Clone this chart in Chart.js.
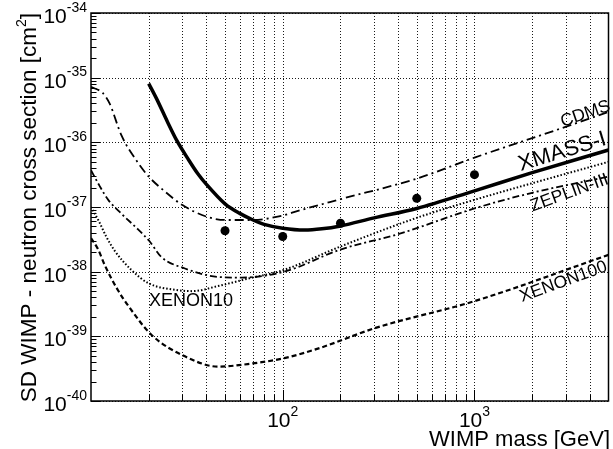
<!DOCTYPE html>
<html>
<head>
<meta charset="utf-8">
<script src="https://cdn.jsdelivr.net/npm/chart.js@4.4.0/dist/chart.umd.min.js"></script>
<style>
  html, body { margin: 0; padding: 0; background: #fff; }
  #wrap { width: 613px; height: 449px; }
</style>
</head>
<body>
<div id="wrap"><canvas id="limitChart" width="613" height="449"></canvas></div>
<script>
// ========== DATA ==========
// WIMP mass [GeV] / cross section [cm^2]
const xmassMass  = [20, 22, 25, 28, 32, 36, 40, 50, 60, 70, 80, 100, 130, 160, 200, 300, 500, 1000, 2000, 5000];
const xmassSigma = [8.1e-36, 4.7e-36, 2.1e-36, 1.07e-36, 5.6e-37, 3.3e-37, 2.24e-37, 1.12e-37, 7.9e-38, 6.3e-38,
                    5.4e-38, 4.7e-38, 4.4e-38, 4.6e-38, 5.1e-38, 6.8e-38, 9.5e-38, 1.78e-37, 3.4e-37, 7.6e-37];

const cdmsMass  = [10, 11.5, 12.5, 14.4, 17.6, 20, 25, 30, 40, 50, 70, 100, 120, 200, 500, 1000, 2600, 5000];
const cdmsSigma = [7.2e-36, 5.8e-36, 4.0e-36, 1.29e-36, 4.8e-37, 2.95e-37, 1.62e-37, 1.07e-37, 7.1e-38, 6.3e-38,
                   6.3e-38, 7.4e-38, 8.7e-38, 1.32e-37, 2.75e-37, 5.8e-37, 1.51e-36, 2.95e-36];

const zeplinMass  = [10, 11.1, 12.3, 14.4, 17.6, 20.2, 23.2, 30.9, 46, 61, 102, 200, 400, 1000, 2000, 5000];
const zeplinSigma = [3.7e-37, 2.1e-37, 1.29e-37, 7.9e-38, 4.5e-38, 2.95e-38, 1.7e-38, 1.12e-38, 8.3e-39, 8.1e-39,
                     1.0e-38, 2.2e-38, 3.8e-38, 9.5e-38, 1.66e-37, 2.95e-37];

const xe10Mass  = [10, 11, 12, 13.3, 16.2, 20, 28, 34, 45, 67, 100, 200, 500, 1000, 5000];
const xe10Sigma = [1.0e-37, 6.0e-38, 3.5e-38, 2.1e-38, 1.07e-38, 6.6e-39, 5.2e-39, 5.0e-39, 5.9e-39, 7.9e-39,
                   1.05e-38, 2.45e-38, 6.8e-38, 1.29e-37, 5.0e-37];

const xe100Mass  = [10, 10.9, 11.8, 13.8, 15.6, 20.7, 30.9, 46, 69, 102, 156, 305, 1000, 5000];
const xe100Sigma = [3.3e-38, 2.2e-38, 1.26e-38, 5.2e-39, 3.0e-39, 1.05e-39, 4.9e-40, 3.4e-40, 3.8e-40, 4.6e-40,
                    6.6e-40, 1.35e-39, 3.5e-39, 1.82e-38];

// XMASS-I data points
const pointMass  = [50, 100, 200, 500, 1000];
const pointSigma = [4.3e-38, 3.5e-38, 5.6e-38, 1.36e-37, 3.16e-37];

// axes
const X_MIN = 10, X_MAX = 5000;
const Y_MIN = 1e-40, Y_MAX = 1e-34;
const xGridValues  = [20, 30, 40, 50, 60, 70, 80, 90, 100, 200, 300, 400, 500, 600, 700, 800, 900, 1000, 2000, 3000, 4000];
const xMajorValues = [100, 1000];
const xMajorExp    = ['2', '3'];
const yMajorValues = [1e-40, 1e-39, 1e-38, 1e-37, 1e-36, 1e-35, 1e-34];
const yMajorExp    = ['-40', '-39', '-38', '-37', '-36', '-35', '-34'];
const yMinorMult   = [2, 3, 4, 5, 6, 7, 8, 9];

// curve labels: text, anchor mass, anchor sigma, angle (deg), font px
const curveLabels = [
    ['CDMS',       3790, 2.75e-36, -19, 17.5],
    ['XMASS-I',    2870, 7.1e-37,  -17, 22],
    ['ZEPLIN-III', 3130, 1.65e-37, -20, 17.5],
    ['XENON100',   2910, 6.95e-39, -20, 17.5],
    ['XENON10',    33.2, 3.54e-39,   0, 18]
];

const FONT = '"Liberation Sans", Arial, Helvetica, sans-serif';

function pts(xs, ys) { return xs.map((v, i) => ({ x: v, y: ys[i] })); }

function curve(label, xs, ys, width, dash) {
    return {
        label: label,
        data: pts(xs, ys),
        borderColor: '#000',
        backgroundColor: '#000',
        borderWidth: width,
        borderDash: dash,
        pointRadius: 0,
        fill: false,
        cubicInterpolationMode: 'monotone',
        clip: 0
    };
}

// ========== DECORATION PLUGIN ==========
function drawPow(ctx, exp, x, baseY, align) {
    ctx.font = '21px ' + FONT;
    const wBase = ctx.measureText('10').width;
    ctx.font = '14px ' + FONT;
    const wExp = ctx.measureText(exp).width;
    let left;
    if (align === 'right') left = x - wBase - wExp;
    else left = x - (wBase + wExp) / 2;
    ctx.textAlign = 'left';
    ctx.textBaseline = 'alphabetic';
    ctx.font = '21px ' + FONT;
    ctx.fillText('10', left, baseY);
    ctx.font = '14px ' + FONT;
    ctx.fillText(exp, left + wBase, baseY - 11.5);
}

const decor = {
    id: 'decor',
    beforeDatasetsDraw(chart) {
        const { ctx, chartArea: a, scales: { x, y } } = chart;
        ctx.save();
        ctx.strokeStyle = '#1a1a1a';
        ctx.lineWidth = 1;
        ctx.setLineDash([1, 2]);
        ctx.beginPath();
        xGridValues.forEach(v => {
            const px = Math.round(x.getPixelForValue(v)) + 0.5;
            ctx.moveTo(px, a.top); ctx.lineTo(px, a.bottom);
        });
        yMajorValues.forEach(v => {
            const py = Math.round(y.getPixelForValue(v)) + 0.5;
            ctx.moveTo(a.left, py); ctx.lineTo(a.right, py);
        });
        ctx.stroke();
        ctx.restore();
    },
    afterDatasetsDraw(chart) {
        const { ctx, chartArea: a, scales: { x, y } } = chart;
        ctx.save();
        ctx.fillStyle = '#000';
        ctx.strokeStyle = '#000';

        // frame
        ctx.lineWidth = 1.5;
        ctx.strokeRect(a.left, a.top, a.right - a.left, a.bottom - a.top);

        // y ticks (inside, left)
        ctx.lineWidth = 1;
        ctx.beginPath();
        yMajorValues.forEach((v, i) => {
            const py = Math.round(y.getPixelForValue(v)) + 0.5;
            ctx.moveTo(a.left, py); ctx.lineTo(a.left + 9, py);
            if (i < yMajorValues.length - 1) {
                yMinorMult.forEach(k => {
                    const pm = Math.round(y.getPixelForValue(k * v)) + 0.5;
                    ctx.moveTo(a.left, pm); ctx.lineTo(a.left + 5.5, pm);
                });
            }
        });
        // x ticks (inside, bottom)
        xGridValues.forEach(v => {
            const px = Math.round(x.getPixelForValue(v)) + 0.5;
            const len = xMajorValues.includes(v) ? 11 : 6;
            ctx.moveTo(px, a.bottom); ctx.lineTo(px, a.bottom - len);
        });
        ctx.stroke();

        // tick labels
        yMajorValues.forEach((v, i) => {
            const py = y.getPixelForValue(v);
            drawPow(ctx, yMajorExp[i], 87, py + 10, 'right');
        });
        xMajorValues.forEach((v, i) => {
            const px = x.getPixelForValue(v);
            drawPow(ctx, xMajorExp[i], px, 427, 'center');
        });

        // axis titles
        ctx.font = '22px ' + FONT;
        ctx.textAlign = 'right';
        ctx.textBaseline = 'alphabetic';
        ctx.fillText('WIMP mass [GeV]', 610, 446);

        ctx.save();
        ctx.translate(36, a.top);
        ctx.rotate(-Math.PI / 2);
        ctx.textAlign = 'left';
        ctx.font = '22.5px ' + FONT;
        const t1 = 'SD WIMP - neutron cross section [cm';
        const wClose = ctx.measureText(']').width;
        ctx.font = '14px ' + FONT;
        const wSup = ctx.measureText('2').width;
        ctx.font = '22.5px ' + FONT;
        const w1 = ctx.measureText(t1).width;
        const start = -(w1 + wSup + wClose);
        ctx.fillText(t1, start, 0);
        ctx.font = '14px ' + FONT;
        ctx.fillText('2', start + w1, -10);
        ctx.font = '22.5px ' + FONT;
        ctx.fillText(']', start + w1 + wSup, 0);
        ctx.restore();

        // curve labels
        curveLabels.forEach(([txt, m, s, ang, size]) => {
            ctx.save();
            ctx.translate(x.getPixelForValue(m), y.getPixelForValue(s));
            ctx.rotate(ang * Math.PI / 180);
            ctx.font = size + 'px ' + FONT;
            ctx.textAlign = 'center';
            ctx.textBaseline = 'middle';
            ctx.fillText(txt, 0, 0);
            ctx.restore();
        });
        ctx.restore();
    }
};

// ========== CHART ==========
const ctx = document.getElementById('limitChart').getContext('2d');
new Chart(ctx, {
    type: 'line',
    data: {
        datasets: [
            curve('XENON100', xe100Mass, xe100Sigma, 2.2, [5, 3]),
            curve('XENON10', xe10Mass, xe10Sigma, 2, [1.5, 2]),
            curve('ZEPLIN-III', zeplinMass, zeplinSigma, 1.8, [7, 3, 2, 3]),
            curve('CDMS', cdmsMass, cdmsSigma, 1.8, [9, 4, 2, 4]),
            curve('XMASS-I', xmassMass, xmassSigma, 3.5, []),
            {
                label: 'XMASS-I points',
                data: pts(pointMass, pointSigma),
                showLine: false,
                pointRadius: 4.5,
                pointStyle: 'circle',
                pointBackgroundColor: '#000',
                pointBorderColor: '#000',
                pointBorderWidth: 0,
                clip: 0
            }
        ]
    },
    options: {
        responsive: false,
        devicePixelRatio: 1,
        animation: false,
        layout: { padding: { left: 91, top: 13, right: 1, bottom: 48 } },
        plugins: { legend: { display: false }, tooltip: { enabled: false } },
        scales: {
            x: { type: 'logarithmic', min: X_MIN, max: X_MAX, display: false },
            y: { type: 'logarithmic', min: Y_MIN, max: Y_MAX, display: false }
        }
    },
    plugins: [decor]
});
</script>
</body>
</html>
